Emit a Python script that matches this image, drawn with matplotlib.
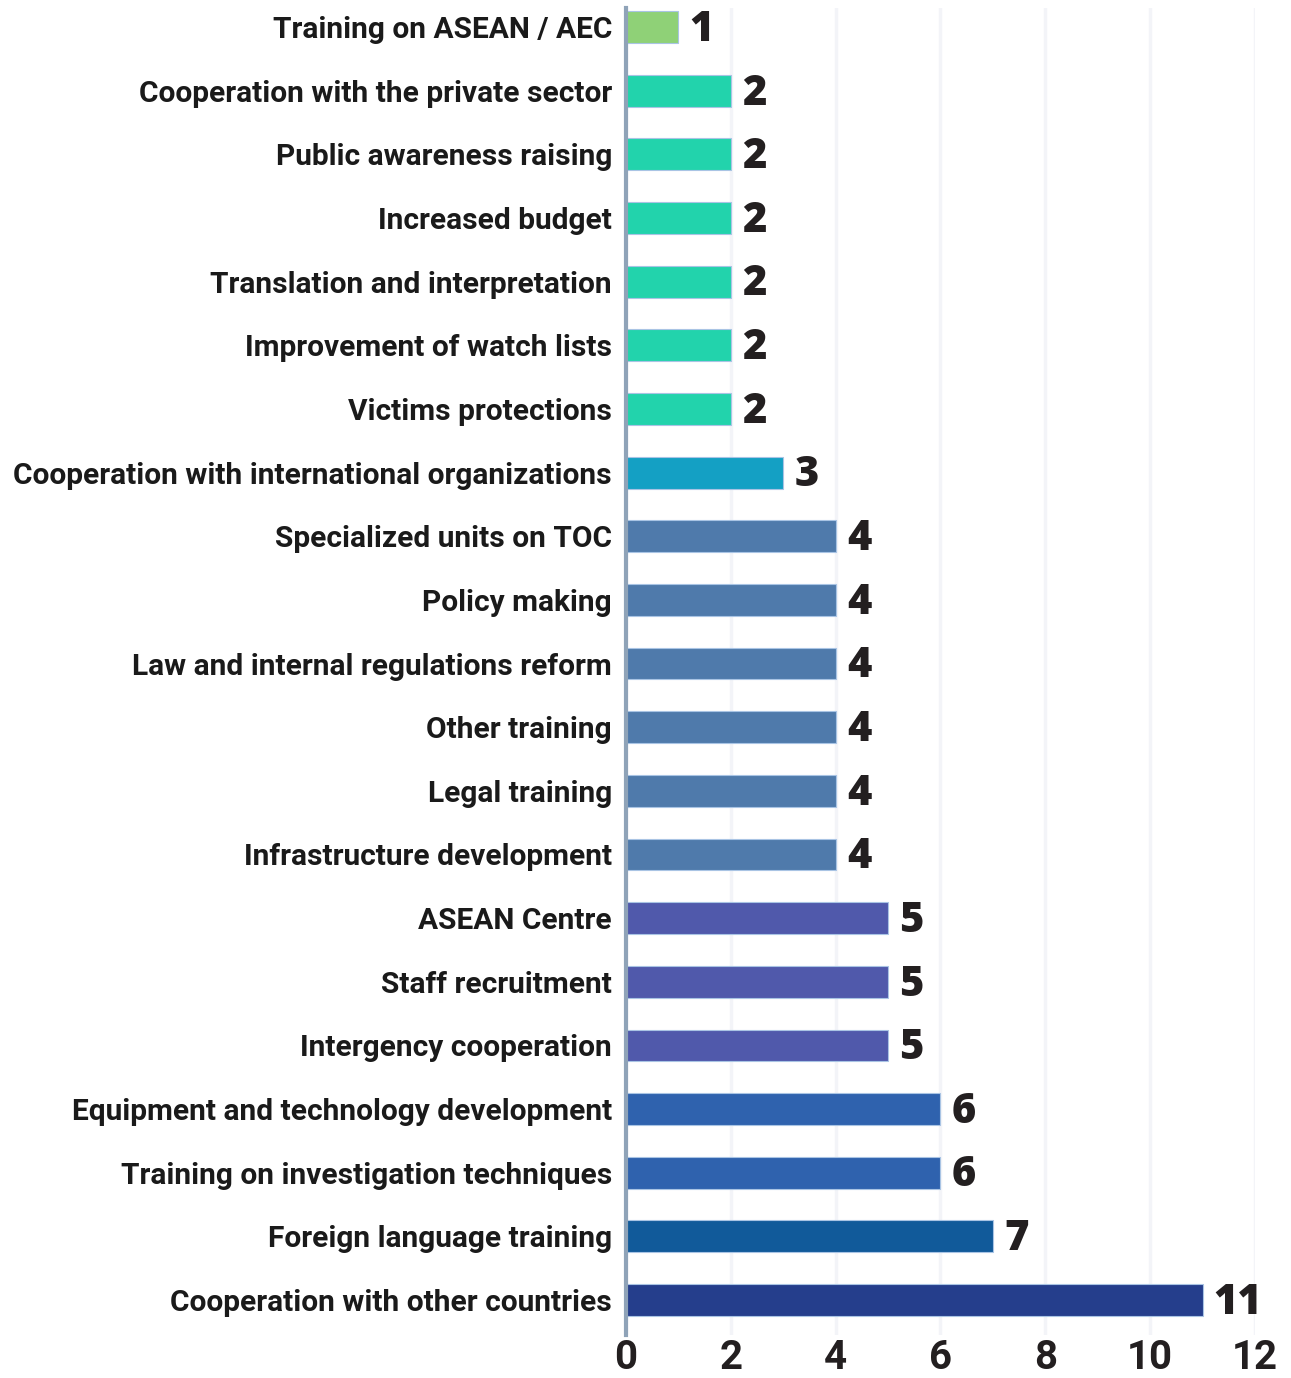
import matplotlib
matplotlib.use("Agg")
import matplotlib.pyplot as plt

categories = [
    "Training on ASEAN / AEC",
    "Cooperation with the private sector",
    "Public awareness raising",
    "Increased budget",
    "Translation and interpretation",
    "Improvement of watch lists",
    "Victims protections",
    "Cooperation with international organizations",
    "Specialized units on TOC",
    "Policy making",
    "Law and internal regulations reform",
    "Other training",
    "Legal training",
    "Infrastructure development",
    "ASEAN Centre",
    "Staff recruitment",
    "Intergency cooperation",
    "Equipment and technology development",
    "Training on investigation techniques",
    "Foreign language training",
    "Cooperation with other countries",
]
values = [1, 2, 2, 2, 2, 2, 2, 3, 4, 4, 4, 4, 4, 4, 5, 5, 5, 6, 6, 7, 11]
colors = ["#8fd177"] + ["#22d3ac"] * 6 + ["#14a0c4"] + ["#4f7aab"] * 6 + \
         ["#5059ab"] * 3 + ["#2f62ae"] * 2 + ["#115a9a", "#253e8c"]
xticks = [0, 2, 4, 6, 8, 10, 12]

fig = plt.figure(figsize=(12.91, 13.78), dpi=100)
ax = fig.add_axes([0.4849, 0.0312, 0.4872, 0.963])

n = len(categories)
ypos = [n - 1 - i for i in range(n)]
ax.barh(ypos, values, height=0.5, color=colors, edgecolor="#a9c4e4",
        linewidth=0.8, zorder=3)

for y, v in zip(ypos, values):
    ax.annotate(str(v), (v, y), xytext=(8, -2), textcoords="offset points",
                ha="left", va="center", fontsize=30, fontweight="heavy",
                family="Open Sans", color="#231f20", zorder=4)

ax.set_xlim(0, 12)
ax.set_ylim(-0.55, n - 1 + 0.3)
ax.set_yticks(ypos)
ax.set_yticklabels(categories, fontsize=21.5, fontweight="bold",
                   family="Roboto", color="#1a1a1a")
ax.set_xticks(xticks)
ax.set_xticklabels([str(t) for t in xticks], fontsize=29, fontweight="bold",
                   family="Roboto", color="#231f20")
ax.tick_params(axis="y", length=0, pad=10)
ax.tick_params(axis="x", length=0, pad=3)

ax.grid(axis="x", color="#f3f4f8", linewidth=2.5, zorder=0)
ax.grid(axis="y", visible=False)
for s in ["top", "right", "bottom"]:
    ax.spines[s].set_visible(False)
ax.spines["left"].set_color("#8fa3b8")
ax.spines["left"].set_linewidth(3)
ax.spines["left"].set_zorder(5)

fig.savefig("out.png", dpi=100)
